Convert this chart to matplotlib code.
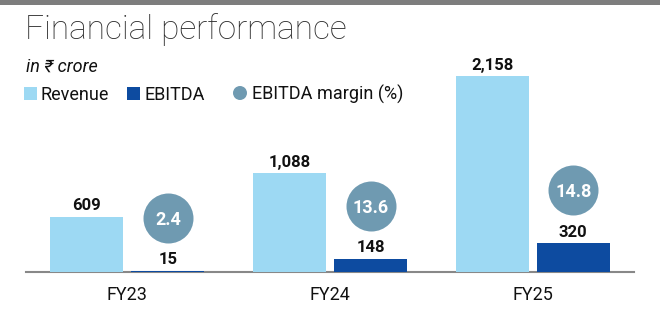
import matplotlib.pyplot as plt
import matplotlib.patches as mpatches
import matplotlib.transforms as mtransforms
import numpy as np

plt.rcParams['font.family'] = ['Roboto', 'DejaVu Sans']

# data
years = ['FY23', 'FY24', 'FY25']
revenue = [609, 1088, 2158]
ebitda = [15, 148, 320]
margin = [2.4, 13.6, 14.8]

c_rev = '#9dd9f3'
c_ebitda = '#0d4ba0'
c_margin = '#6f9ab1'

W, H = 660, 321
fig = plt.figure(figsize=(6.6, 3.21), dpi=100)

def fx(px):
    return px / W

def fy(py):
    return (H - py) / H

# gray strip at top
fig.add_artist(mpatches.Rectangle((0, fy(5)), 1, 5 / H, color='#7d7d7d',
                                  transform=fig.transFigure, lw=0))

fig.text(fx(25), fy(39), 'Financial performance', fontsize=24, fontweight='light',
         color='#2e2e2e', va='baseline')
fig.text(fx(26), fy(72), 'in ₹ crore', fontsize=13, style='italic',
         color='#111111', va='baseline')

# legend
fig.add_artist(mpatches.Rectangle((fx(24), fy(100)), 13 / W, 13 / H, color=c_rev,
                                  transform=fig.transFigure, lw=0))
fig.text(fx(41), fy(100), 'Revenue', fontsize=13, va='baseline', color='#111111')
fig.add_artist(mpatches.Rectangle((fx(127), fy(100)), 13 / W, 13 / H, color=c_ebitda,
                                  transform=fig.transFigure, lw=0))
fig.text(fx(144), fy(100), 'EBITDA', fontsize=13, va='baseline', color='#111111')
fig.add_artist(mpatches.Ellipse((fx(240), fy(93)), 14 / W, 14 / H, color=c_margin,
                                transform=fig.transFigure, lw=0))
fig.text(fx(252), fy(100), 'EBITDA margin (%)', fontsize=13, va='baseline', color='#111111')

# bars
ax = fig.add_axes([fx(26), fy(272), 608 / W, 212 / H])
x = np.arange(len(years))
w = 0.36
off = 0.2
ax.bar(x - off, revenue, w, color=c_rev, zorder=3)
ax.bar(x + off, ebitda, w, color=c_ebitda, zorder=3)

# margin bubbles sit a fixed distance above each EBITDA bar
lift = mtransforms.offset_copy(ax.transData, fig=fig, x=0, y=38, units='points')
ax.scatter(x + off, ebitda, s=1296, color=c_margin, lw=0, transform=lift,
           zorder=4, clip_on=False)

for i in range(len(years)):
    ax.annotate(f'{revenue[i]:,}', (x[i] - off, revenue[i]), xytext=(0, 4.5),
                textcoords='offset points', ha='center', va='baseline',
                fontsize=12, fontweight='bold', color='#111111')
    ax.annotate(f'{ebitda[i]:,}', (x[i] + off, ebitda[i]), xytext=(0, 4.5),
                textcoords='offset points', ha='center', va='baseline',
                fontsize=12, fontweight='bold', color='#111111')
    ax.annotate(f'{margin[i]}', (x[i] + off, ebitda[i]), xytext=(0, 38),
                textcoords='offset points', ha='center', va='center_baseline',
                fontsize=13, fontweight='bold', color='white', zorder=5)

ax.set_xlim(-0.5, 2.5)
ax.set_ylim(0, 2334)
ax.set_xticks(x)
ax.set_xticklabels(years, fontsize=13, color='#111111')
ax.tick_params(axis='x', length=0, pad=10)
ax.set_yticks([])
for s in ['top', 'left', 'right']:
    ax.spines[s].set_visible(False)
ax.spines['bottom'].set_color('#888888')
ax.spines['bottom'].set_linewidth(1.5)

fig.savefig('out.png', dpi=100)
